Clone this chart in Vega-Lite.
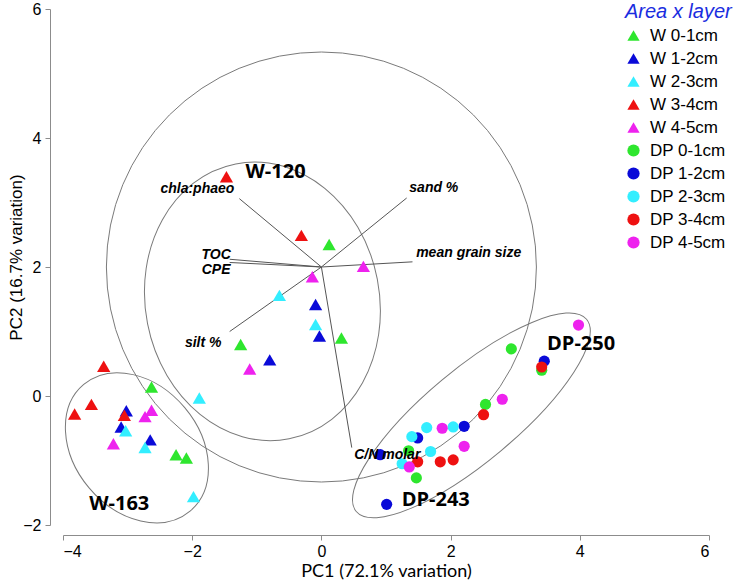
{
  "$schema": "https://vega.github.io/schema/vega-lite/v6.json",
  "width": 646,
  "height": 516,
  "autosize": {"type": "none"},
  "padding": {"left": 63, "top": 9, "right": 36, "bottom": 60},
  "background": "white",
  "config": {
    "view": {"stroke": null},
    "axis": {
      "grid": false,
      "domainColor": "#8c8c8c",
      "tickColor": "#8c8c8c",
      "tickSize": 5,
      "labelFont": "Liberation Sans",
      "labelFontSize": 16,
      "labelColor": "#000000",
      "titleColor": "#000000",
      "titleFontWeight": "normal"
    }
  },
  "datasets": {
    "pts": [
      {"g": "W 0-1cm", "area": "W", "x": -2.63, "y": 0.14},
      {"g": "W 0-1cm", "area": "W", "x": -2.25, "y": -0.91},
      {"g": "W 0-1cm", "area": "W", "x": -2.09, "y": -0.96},
      {"g": "W 0-1cm", "area": "W", "x": 0.12, "y": 2.35},
      {"g": "W 0-1cm", "area": "W", "x": 0.31, "y": 0.9},
      {"g": "W 0-1cm", "area": "W", "x": -1.25, "y": 0.8},
      {"g": "W 1-2cm", "area": "W", "x": -3.02, "y": -0.23},
      {"g": "W 1-2cm", "area": "W", "x": -3.1, "y": -0.48},
      {"g": "W 1-2cm", "area": "W", "x": -2.65, "y": -0.68},
      {"g": "W 1-2cm", "area": "W", "x": -0.09, "y": 1.42},
      {"g": "W 1-2cm", "area": "W", "x": -0.03, "y": 0.93},
      {"g": "W 1-2cm", "area": "W", "x": -0.8, "y": 0.56},
      {"g": "W 2-3cm", "area": "W", "x": -1.89, "y": -0.03},
      {"g": "W 2-3cm", "area": "W", "x": -3.03, "y": -0.54},
      {"g": "W 2-3cm", "area": "W", "x": -2.73, "y": -0.8},
      {"g": "W 2-3cm", "area": "W", "x": -1.98, "y": -1.56},
      {"g": "W 2-3cm", "area": "W", "x": -0.65, "y": 1.56},
      {"g": "W 2-3cm", "area": "W", "x": -0.09, "y": 1.11},
      {"g": "W 3-4cm", "area": "W", "x": -3.37, "y": 0.46},
      {"g": "W 3-4cm", "area": "W", "x": -3.82, "y": -0.28},
      {"g": "W 3-4cm", "area": "W", "x": -3.56, "y": -0.13},
      {"g": "W 3-4cm", "area": "W", "x": -3.05, "y": -0.3},
      {"g": "W 3-4cm", "area": "W", "x": -1.47, "y": 3.4},
      {"g": "W 3-4cm", "area": "W", "x": -0.31, "y": 2.49},
      {"g": "W 4-5cm", "area": "W", "x": -2.73, "y": -0.32},
      {"g": "W 4-5cm", "area": "W", "x": -2.63, "y": -0.22},
      {"g": "W 4-5cm", "area": "W", "x": -3.22, "y": -0.74},
      {"g": "W 4-5cm", "area": "W", "x": 0.65, "y": 2.01},
      {"g": "W 4-5cm", "area": "W", "x": -0.14, "y": 1.85},
      {"g": "W 4-5cm", "area": "W", "x": -1.11, "y": 0.42},
      {"g": "DP 0-1cm", "area": "DP", "x": 2.94, "y": 0.73},
      {"g": "DP 0-1cm", "area": "DP", "x": 3.41, "y": 0.4},
      {"g": "DP 0-1cm", "area": "DP", "x": 2.54, "y": -0.13},
      {"g": "DP 0-1cm", "area": "DP", "x": 1.35, "y": -0.85},
      {"g": "DP 0-1cm", "area": "DP", "x": 1.47, "y": -1.27},
      {"g": "DP 1-2cm", "area": "DP", "x": 3.45, "y": 0.54},
      {"g": "DP 1-2cm", "area": "DP", "x": 2.21, "y": -0.47},
      {"g": "DP 1-2cm", "area": "DP", "x": 1.49, "y": -0.65},
      {"g": "DP 1-2cm", "area": "DP", "x": 0.91, "y": -0.91},
      {"g": "DP 1-2cm", "area": "DP", "x": 1.01, "y": -1.68},
      {"g": "DP 2-3cm", "area": "DP", "x": 1.63, "y": -0.49},
      {"g": "DP 2-3cm", "area": "DP", "x": 2.04, "y": -0.48},
      {"g": "DP 2-3cm", "area": "DP", "x": 1.4, "y": -0.63},
      {"g": "DP 2-3cm", "area": "DP", "x": 1.69, "y": -0.86},
      {"g": "DP 2-3cm", "area": "DP", "x": 1.25, "y": -1.05},
      {"g": "DP 3-4cm", "area": "DP", "x": 3.41, "y": 0.45},
      {"g": "DP 3-4cm", "area": "DP", "x": 2.51, "y": -0.29},
      {"g": "DP 3-4cm", "area": "DP", "x": 1.49, "y": -1.02},
      {"g": "DP 3-4cm", "area": "DP", "x": 1.84, "y": -1.02},
      {"g": "DP 3-4cm", "area": "DP", "x": 2.04, "y": -0.99},
      {"g": "DP 4-5cm", "area": "DP", "x": 3.98, "y": 1.1},
      {"g": "DP 4-5cm", "area": "DP", "x": 2.8, "y": -0.05},
      {"g": "DP 4-5cm", "area": "DP", "x": 1.87, "y": -0.5},
      {"g": "DP 4-5cm", "area": "DP", "x": 2.21, "y": -0.78},
      {"g": "DP 4-5cm", "area": "DP", "x": 1.36, "y": -1.1}
    ],
    "vectors": [
      {"v": "chla:phaeo", "x": 0, "y": 2, "x2": -1.27, "y2": 3.06},
      {"v": "sand %", "x": 0, "y": 2, "x2": 1.32, "y2": 3.07},
      {"v": "mean grain size", "x": 0, "y": 2, "x2": 1.41, "y2": 2.08},
      {"v": "TOC", "x": 0, "y": 2, "x2": -1.42, "y2": 2.12},
      {"v": "CPE", "x": 0, "y": 2, "x2": -1.42, "y2": 2.07},
      {"v": "silt %", "x": 0, "y": 2, "x2": -1.42, "y2": 1.0},
      {"v": "C/N molar", "x": 0, "y": 2, "x2": 0.47, "y2": -0.8}
    ],
    "shapes": [
      {"name": "circle", "x": 0, "y": 2},
      {"name": "W-120", "x": -0.913, "y": 1.467},
      {"name": "W-163", "x": -2.856, "y": -0.803},
      {"name": "DP", "x": 2.322, "y": -0.301}
    ],
    "vlabels": [
      {"t": "chla:phaeo", "x": -1.92, "y": 3.21},
      {"t": "sand %", "x": 1.74, "y": 3.23},
      {"t": "mean grain size", "x": 2.28, "y": 2.22},
      {"t": "TOC", "x": -1.63, "y": 2.19},
      {"t": "CPE", "x": -1.63, "y": 1.95},
      {"t": "silt %", "x": -1.83, "y": 0.82},
      {"t": "C/N molar", "x": 1.02, "y": -0.91}
    ],
    "glabels": [
      {"t": "W-120", "x": -0.71, "y": 3.47},
      {"t": "W-163", "x": -3.13, "y": -1.67},
      {"t": "DP-250", "x": 4.02, "y": 0.8},
      {"t": "DP-243", "x": 1.77, "y": -1.62}
    ]
  },
  "encoding": {
    "x": {
      "field": "x", "type": "quantitative",
      "scale": {"domain": [-4, 6], "nice": false, "zero": false},
      "axis": {"values": [-4, -2, 0, 2, 4, 6], "offset": 10, "labelPadding": 3, "title": "PC1 (72.1% variation)", "titleFont": "Lato", "titleFontSize": 18, "titlePadding": 3}
    },
    "y": {
      "field": "y", "type": "quantitative",
      "scale": {"domain": [-2, 6], "nice": false, "zero": false},
      "axis": {"values": [-2, 0, 2, 4, 6], "offset": 13, "labelPadding": 4, "labelFontSize": 16, "title": "PC2 (16.7% variation)", "titleFont": "Liberation Sans", "titleFontSize": 17, "titlePadding": -3, "titleY": 248}
    }
  },
  "layer": [
    {
      "data": {"name": "shapes"},
      "transform": [{"filter": "datum.name === 'circle'"}],
      "mark": {"type": "point", "shape": "circle", "filled": false, "stroke": "#7a7a7a", "strokeWidth": 1, "size": 184900, "opacity": 1}
    },
    {
      "data": {"name": "shapes"},
      "transform": [{"filter": "datum.name === 'W-120'"}],
      "mark": {"type": "point", "shape": "M-1,0A1,0.836 0 1,1 1,0A1,0.836 0 1,1 -1,0", "filled": false, "stroke": "#7a7a7a", "strokeWidth": 1, "size": 78400, "angle": 79, "opacity": 1}
    },
    {
      "data": {"name": "shapes"},
      "transform": [{"filter": "datum.name === 'W-163'"}],
      "mark": {"type": "point", "shape": "M-1,0A1,0.755 0 1,1 1,0A1,0.755 0 1,1 -1,0", "filled": false, "stroke": "#7a7a7a", "strokeWidth": 1, "size": 27357, "angle": 50, "opacity": 1}
    },
    {
      "data": {"name": "shapes"},
      "transform": [{"filter": "datum.name === 'DP'"}],
      "mark": {"type": "point", "shape": "M-1,0A1,0.307 0 1,1 1,0A1,0.307 0 1,1 -1,0", "filled": false, "stroke": "#7a7a7a", "strokeWidth": 1, "size": 90000, "angle": 320.15, "opacity": 1}
    },
    {
      "data": {"name": "vectors"},
      "mark": {"type": "rule", "color": "#555555", "strokeWidth": 1},
      "encoding": {"x2": {"field": "x2"}, "y2": {"field": "y2"}}
    },
    {
      "data": {"name": "pts"},
      "mark": {"type": "point", "filled": true, "opacity": 1},
      "encoding": {
        "color": {
          "field": "g", "type": "nominal",
          "scale": {
            "domain": ["W 0-1cm", "W 1-2cm", "W 2-3cm", "W 3-4cm", "W 4-5cm", "DP 0-1cm", "DP 1-2cm", "DP 2-3cm", "DP 3-4cm", "DP 4-5cm"],
            "range": ["#2ee62e", "#0a0ad8", "#33eeff", "#ee1111", "#ee22ee", "#2ee62e", "#0a0ad8", "#33eeff", "#ee1111", "#ee22ee"]
          },
          "legend": {
            "title": "Area x layer",
            "orient": "none",
            "legendX": 562,
            "legendY": -7,
            "padding": 0,
            "titleFont": "Liberation Sans",
            "titleFontSize": 20,
            "titleFontStyle": "italic",
            "titleFontWeight": "normal",
            "titleColor": "#1a2de0",
            "titlePadding": 5,
            "labelFont": "Liberation Sans",
            "labelFontSize": 17,
            "labelColor": "#000000",
            "labelOffset": 8,
            "symbolSize": 150,
            "symbolStrokeWidth": 0,
            "rowPadding": 5
          }
        },
        "shape": {
          "field": "g", "type": "nominal",
          "scale": {
            "domain": ["W 0-1cm", "W 1-2cm", "W 2-3cm", "W 3-4cm", "W 4-5cm", "DP 0-1cm", "DP 1-2cm", "DP 2-3cm", "DP 3-4cm", "DP 4-5cm"],
            "range": ["triangle-up", "triangle-up", "triangle-up", "triangle-up", "triangle-up", "circle", "circle", "circle", "circle", "circle"]
          },
          "legend": {"title": "Area x layer"}
        },
        "size": {"condition": {"test": "datum.area === 'W'", "value": 175}, "value": 125}
      }
    },
    {
      "data": {"name": "vlabels"},
      "mark": {"type": "text", "font": "Liberation Sans", "fontSize": 14, "fontWeight": "bold", "fontStyle": "italic", "color": "#000000", "align": "center", "baseline": "middle"},
      "encoding": {"text": {"field": "t"}}
    },
    {
      "data": {"name": "glabels"},
      "mark": {"type": "text", "font": "Open Sans", "fontSize": 20, "fontWeight": "bold", "color": "#000000", "align": "center", "baseline": "middle"},
      "encoding": {"text": {"field": "t"}}
    }
  ]
}
